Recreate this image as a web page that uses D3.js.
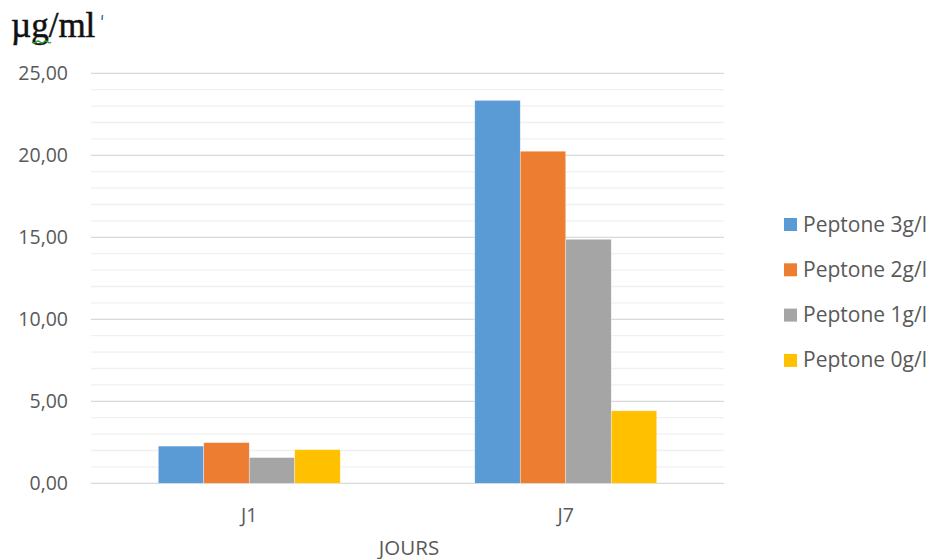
<!DOCTYPE html>
<html><head><meta charset="utf-8">
<script src="https://cdn.jsdelivr.net/npm/d3@7"></script>
<style>
html,body{margin:0;padding:0;background:#fff;}
svg{display:block;}
</style></head>
<body>
<svg id="chart" width="931" height="559"></svg>
<script>
const categories = ["J1", "J7"];
const seriesNames = ["Peptone 3g/l", "Peptone 2g/l", "Peptone 1g/l", "Peptone 0g/l"];
const peptone3 = [2.27, 23.35];
const peptone2 = [2.48, 20.25];
const peptone1 = [1.57, 14.88];
const peptone0 = [2.05, 4.42];
const seriesValues = [peptone3, peptone2, peptone1, peptone0];
const colors = ["#5B9BD5", "#ED7D31", "#A5A5A5", "#FFC000"];
const majorTicks = [0, 5, 10, 15, 20, 25];
const minorTicks = d3.range(0, 26, 1);
const tickFormat = d => d.toFixed(2).replace(".", ",");

const svg = d3.select("#chart");
const plotLeft = 91, plotRight = 724, plotTop = 73.3, plotBottom = 483.3;
const font = "'Open Sans', sans-serif";

const x = d3.scaleBand().domain(categories).range([plotLeft, plotRight]).paddingInner(0.425).paddingOuter(0.2125);
const xs = d3.scaleBand().domain(seriesNames).range([0, x.bandwidth()]);
const y = d3.scaleLinear().domain([0, 25]).range([plotBottom, plotTop]);

// minor gridlines
svg.append("g").selectAll("line").data(minorTicks.filter(t => t % 5 !== 0)).join("line")
  .attr("x1", plotLeft).attr("x2", plotRight)
  .attr("y1", d => y(d)).attr("y2", d => y(d))
  .attr("stroke", "#f0f0f0").attr("stroke-width", 1.3);

// major gridlines
svg.append("g").selectAll("line").data(majorTicks).join("line")
  .attr("x1", plotLeft).attr("x2", plotRight)
  .attr("y1", d => y(d)).attr("y2", d => y(d))
  .attr("stroke", "#d9d9d9").attr("stroke-width", 1.3);

// y axis labels
const yAxis = d3.axisLeft(y).tickValues(majorTicks).tickFormat(tickFormat).tickSize(0).tickPadding(0);
const yg = svg.append("g").attr("transform", "translate(68,0)").call(yAxis);
yg.select(".domain").remove();
yg.selectAll("text").attr("font-family", font).attr("font-size", 19.5).attr("fill", "#595959");

// bars
const groups = svg.append("g").selectAll("g").data(categories).join("g")
  .attr("transform", d => `translate(${x(d)},0)`);
groups.selectAll("rect").data((c, ci) => seriesNames.map((s, si) => ({s, si, v: seriesValues[si][ci]}))).join("rect")
  .attr("x", d => xs(d.s)).attr("width", xs.bandwidth())
  .attr("y", d => y(d.v)).attr("height", d => y(0) - y(d.v))
  .attr("fill", d => colors[d.si])
  .attr("stroke", "#fff").attr("stroke-width", 0.6).attr("stroke-opacity", 0.6);

// x axis labels
const xAxis = d3.axisBottom(x).tickSize(0).tickPadding(0);
const xg = svg.append("g").attr("transform", `translate(0,${plotBottom + 25})`).call(xAxis);
xg.select(".domain").remove();
xg.selectAll("text").attr("font-family", font).attr("font-size", 19.5).attr("fill", "#595959");

// x title
svg.append("text").attr("x", 409).attr("y", 554.5).attr("text-anchor", "middle")
  .attr("font-family", font).attr("font-size", 20.5).attr("fill", "#595959").text("JOURS");

// y title
svg.append("text").attr("x", 11).attr("y", 37)
  .attr("font-family", "'Liberation Serif', 'Times New Roman', serif").attr("font-size", 35)
  .attr("fill", "#111").attr("stroke", "#111").attr("stroke-width", 0.5).text("µg/ml");
svg.append("line").attr("x1", 102.5).attr("x2", 102).attr("y1", 15).attr("y2", 20)
  .attr("stroke", "#2e75b6").attr("stroke-width", 1.5);
svg.append("path").attr("d", "M32,42 q2,2 4,0 t4,0 t4,0 t4,0 t3,0")
  .attr("fill", "none").attr("stroke", "#2f9e2f").attr("stroke-width", 1.2);

// legend
const legend = svg.append("g").selectAll("g").data(seriesNames).join("g")
  .attr("transform", (d, i) => `translate(784,${218 + i * 45.3})`);
legend.append("rect").attr("width", 13).attr("height", 13).attr("fill", (d, i) => colors[i]);
legend.append("text").attr("x", 19).attr("y", 13.5)
  .attr("font-family", font).attr("font-size", 21).attr("fill", "#595959").text(d => d);
</script>
</body></html>
